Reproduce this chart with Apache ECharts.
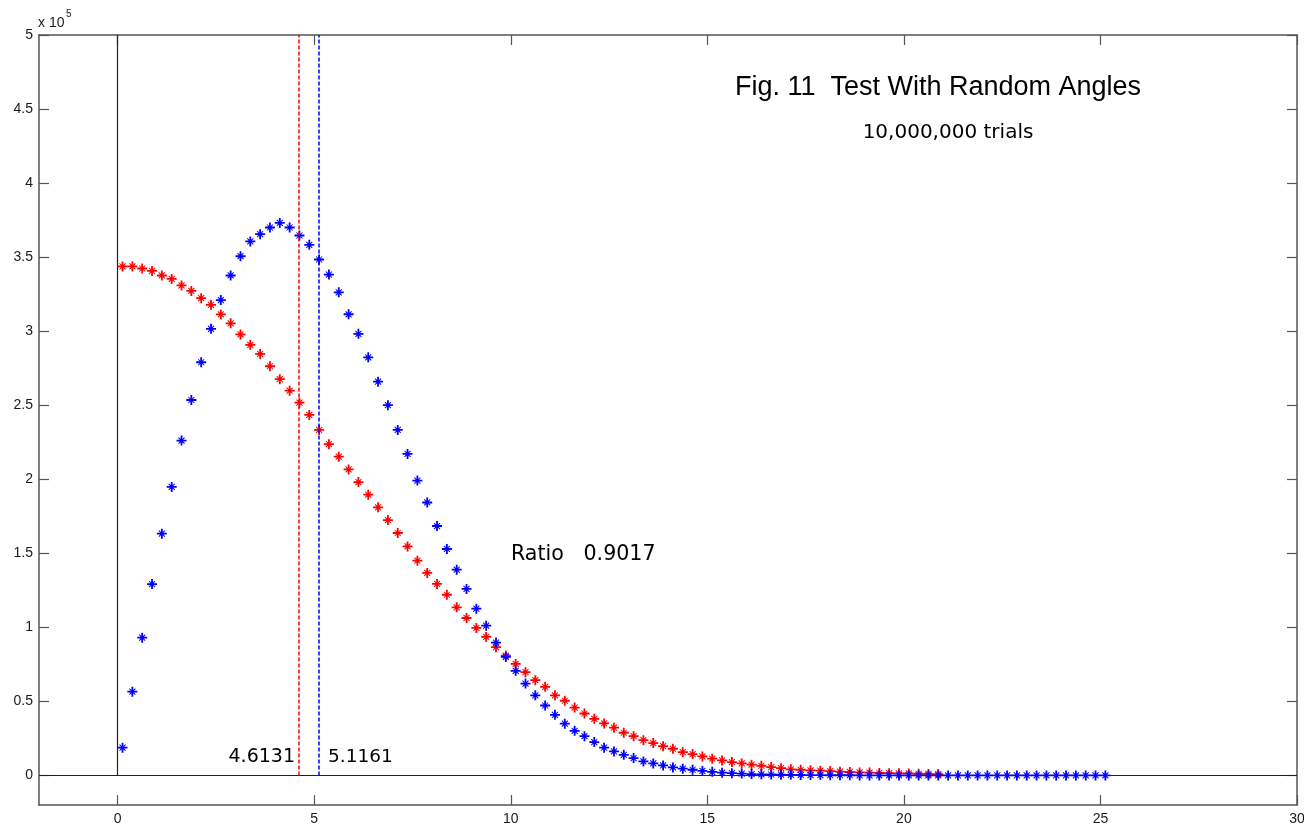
<!DOCTYPE html>
<html><head><meta charset="utf-8">
<script src="https://cdn.jsdelivr.net/npm/echarts@6/dist/echarts.min.js"></script>
<style>html,body{margin:0;padding:0;background:#fff}#c{width:1304px;height:827px}</style>
</head><body><div id="c"></div>
<script>
// bin centres (x)
const xBins = [
0.125,0.375,0.625,0.875,1.125,1.375,1.625,1.875,2.125,2.375,
2.625,2.875,3.125,3.375,3.625,3.875,4.125,4.375,4.625,4.875,
5.125,5.375,5.625,5.875,6.125,6.375,6.625,6.875,7.125,7.375,
7.625,7.875,8.125,8.375,8.625,8.875,9.125,9.375,9.625,9.875,
10.125,10.375,10.625,10.875,11.125,11.375,11.625,11.875,12.125,12.375,
12.625,12.875,13.125,13.375,13.625,13.875,14.125,14.375,14.625,14.875,
15.125,15.375,15.625,15.875,16.125,16.375,16.625,16.875,17.125,17.375,
17.625,17.875,18.125,18.375,18.625,18.875,19.125,19.375,19.625,19.875,
20.125,20.375,20.625,20.875,21.125,21.375,21.625,21.875,22.125,22.375,
22.625,22.875,23.125,23.375,23.625,23.875,24.125,24.375,24.625,24.875,
25.125];
// counts in units of 10^5
const blueCounts = [
0.187,0.565,0.930,1.292,1.632,1.948,2.261,2.535,2.790,3.016,
3.210,3.376,3.506,3.606,3.655,3.700,3.731,3.700,3.646,3.583,
3.484,3.382,3.262,3.114,2.982,2.823,2.659,2.500,2.333,2.171,
1.991,1.843,1.684,1.529,1.389,1.259,1.126,1.011,0.897,0.800,
0.706,0.620,0.541,0.472,0.409,0.349,0.301,0.265,0.225,0.187,
0.162,0.139,0.117,0.094,0.081,0.067,0.054,0.045,0.038,0.030,
0.024,0.018,0.015,0.012,0.009,0.007,0.006,0.005,0.004,0.003,
0.002,0.002,0.001,0.001,0.001,0,0,0,0,0,
0,0,0,0,0,0,0,0,0,0,
0,0,0,0,0,0,0,0,0,0,
0];
const redCounts = [
3.437,3.437,3.423,3.407,3.376,3.353,3.309,3.272,3.223,3.178,
3.113,3.053,2.978,2.908,2.846,2.763,2.676,2.598,2.517,2.434,
2.333,2.237,2.152,2.066,1.981,1.896,1.810,1.724,1.637,1.546,
1.450,1.367,1.293,1.220,1.135,1.063,0.996,0.935,0.866,0.809,
0.753,0.697,0.643,0.598,0.541,0.504,0.458,0.418,0.382,0.351,
0.322,0.288,0.265,0.238,0.218,0.197,0.180,0.157,0.144,0.128,
0.113,0.101,0.090,0.081,0.072,0.065,0.056,0.049,0.041,0.038,
0.034,0.032,0.029,0.025,0.023,0.020,0.019,0.016,0.015,0.014,
0.013,0.011,0.010,0.009];
const xTicks = [0,5,10,15,20,25,30];
const yTicks = [0,0.5,1,1.5,2,2.5,3,3.5,4,4.5,5];
const redMean = 4.6131;
const blueMean = 5.1161;
const titleText = 'Fig. 11  Test With Random Angles';
const subText = '10,000,000 trials';
const ratioText = 'Ratio   0.9017';

const frameColor = '#555';
const RED = '#ff0000', BLUE = '#0000ff';
const tickFont = {color:'#1a1a1a', fontSize:14, fontFamily:'"Liberation Sans", Arial, sans-serif'};
const star = 'path://M0,4.1H10V5.9H0Z M4.1,0H5.9V10H4.1Z M2.354,1.646L8.354,7.646L7.646,8.354L1.646,2.354Z M8.354,2.354L2.354,8.354L1.646,7.646L7.646,1.646Z';

function xAx(pos, lab) {
  return {type:'value', position:pos, min:-2, max:30,
    axisLine:{show:true, onZero:false, lineStyle:{color:frameColor, width:1.5}},
    axisTick:{show:true, inside:true, length:10, customValues:xTicks, lineStyle:{color:frameColor, width:1.2}},
    axisLabel:Object.assign({show:lab, customValues:xTicks, margin:7}, tickFont),
    splitLine:{show:false}};
}
function yAx(pos, lab) {
  return {type:'value', position:pos, min:-0.2, max:5,
    axisLine:{show:true, onZero:false, lineStyle:{color:frameColor, width:1.5}},
    axisTick:{show:true, inside:true, length:10, customValues:yTicks, lineStyle:{color:frameColor, width:1.2}},
    axisLabel:Object.assign({show:lab, customValues:yTicks, margin:6}, tickFont),
    splitLine:{show:false}};
}
function vline(x, style) {
  return [{coord:[x,0], lineStyle:style}, {coord:[x,5], lineStyle:style}];
}

const zeroStyle = {color:'#222', width:1.2, type:'solid', opacity:1};
const redDash = {color:RED, width:1.5, type:[4,2], opacity:1};
const blueDash = {color:BLUE, width:1.5, type:[4,2], opacity:1};

const chart = echarts.init(document.getElementById('c'), null, {renderer:'canvas'});
chart.setOption({
  animation:false,
  backgroundColor:'#fff',
  grid:{left:39, right:7, top:35, bottom:22, containLabel:false, outerBoundsMode:'none'},
  xAxis:[xAx('bottom', true), xAx('top', false)],
  yAxis:[yAx('left', true), yAx('right', false)],
  series:[
    {type:'scatter', name:'zero', data:[], silent:true, z:2,
     itemStyle:{color:'#222'},
     markLine:{silent:true, symbol:['none','none'], label:{show:false}, animation:false,
       lineStyle:zeroStyle, emphasis:{disabled:true},
       data:[
         vline(0, zeroStyle),
         [{coord:[-2,0], lineStyle:zeroStyle},{coord:[30,0], lineStyle:zeroStyle}]
       ]}
    },
    {type:'scatter', name:'red', data: redCounts.map((v,i)=>[xBins[i], v]),
     symbol:star, symbolSize:10, itemStyle:{color:RED, opacity:1}, silent:true, z:3,
     markLine:{silent:true, symbol:['none','none'], label:{show:false}, animation:false,
       lineStyle:redDash, emphasis:{disabled:true},
       data:[ vline(redMean, redDash) ]}
    },
    {type:'scatter', name:'blue', data: blueCounts.map((v,i)=>[xBins[i], v]),
     symbol:star, symbolSize:10, itemStyle:{color:BLUE, opacity:1}, silent:true, z:4,
     markLine:{silent:true, symbol:['none','none'], label:{show:false}, animation:false,
       lineStyle:blueDash, emphasis:{disabled:true},
       data:[ vline(blueMean, blueDash) ]}
    }
  ],
  graphic:[
    {type:'text', x:938, y:87.5, style:{text:titleText, fill:'#000', font:'27px "Liberation Sans", Arial, sans-serif', align:'center', verticalAlign:'middle'}},
    {type:'text', x:948, y:132.5, style:{text:subText, fill:'#000', font:'20px "DejaVu Sans", sans-serif', align:'center', verticalAlign:'middle'}},
    {type:'text', x:511, y:555, style:{text:ratioText, fill:'#000', font:'20.6px "DejaVu Sans", sans-serif', align:'left', verticalAlign:'middle'}},
    {type:'text', x:295, y:757.5, style:{text:String(redMean), fill:'#000', font:'19px "DejaVu Sans", sans-serif', align:'right', verticalAlign:'middle'}},
    {type:'text', x:328, y:757.5, style:{text:String(blueMean), fill:'#000', font:'18.5px "DejaVu Sans", sans-serif', align:'left', verticalAlign:'middle'}},
    {type:'text', x:38, y:23, style:{text:'x 10', fill:'#1a1a1a', font:'14px "Liberation Sans", Arial, sans-serif', align:'left', verticalAlign:'middle'}},
    {type:'text', x:66, y:14.5, style:{text:'5', fill:'#1a1a1a', font:'10px "Liberation Sans", Arial, sans-serif', align:'left', verticalAlign:'middle'}}
  ]
});
</script>
</body></html>
